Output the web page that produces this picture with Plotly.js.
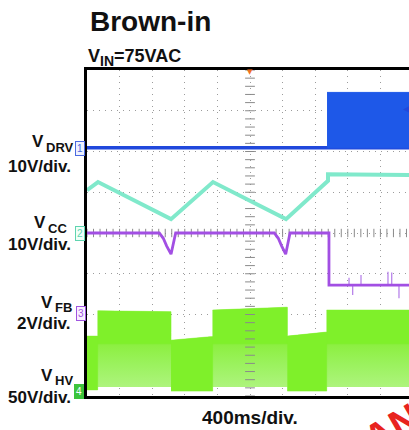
<!DOCTYPE html>
<html>
<head>
<meta charset="utf-8">
<script src="https://cdn.plot.ly/plotly-3.0.1.min.js"></script>
<style>
html,body{margin:0;padding:0;background:#fff;overflow:hidden;}
#chart{width:420px;height:430px;}
</style>
</head>
<body>
<div id="chart"></div>
<script>
// ---- data (time in ms, amplitude in screen divisions) ----
const vdrvLineT = [0, 4000];
const vdrvLineV = [2.09, 2.09];
const vdrvBurstT = [2945, 4000];
const vdrvBurstHi = [3.45, 3.45];
const vdrvBurstLo = [2.09, 2.09];

const vccT = [0, 135, 1031, 1546, 2442, 2957, 2957, 4000];
const vccV = [1.05, 1.25, 0.34, 1.25, 0.34, 1.28, 1.44, 1.42];

const vfbT = [0, 887, 936, 978, 1031, 1088, 2298, 2347, 2389, 2438, 2491, 2969, 2969, 4000];
const vfbV = [0, 0, -0.13, -0.32, -0.52, 0, 0, -0.13, -0.32, -0.52, 0, 0, -1.28, -1.28];
const vfbSpikeT = [3215, 3260, 3362, 3693, 3739, 3828];
const vfbSpikeV = [-1.1, -1.52, -1.03, -0.95, -0.97, -1.6];
const vfbSpikeBase = -1.28;

// V_HV burst envelope: one entry per segment (start/end time, top, solid part, bottom)
const vhvT0 = [0, 131, 1031, 1542, 2458, 2941];
const vhvT1 = [131, 1031, 1542, 2458, 2941, 4000];
const vhvTop0 = [-2.53, -1.91, -2.63, -1.89, -2.53, -1.89];
const vhvTop1 = [-2.53, -1.93, -2.54, -1.82, -2.43, -1.89];
const vhvSolidLo = [-3.85, -2.72, -3.88, -2.72, -3.88, -2.72];
const vhvBottom = [-3.85, -3.78, -3.88, -3.78, -3.88, -3.78];

const titleText = 'Brown-in';
const xUnitText = '400ms/div.';
const channelNames = [['V', 'DRV'], ['V', 'CC'], ['V', 'FB'], ['V', 'HV']];
const channelScales = ['10V/div.', '10V/div.', '2V/div.', '50V/div.'];

// ---- helpers ----
function boxes(t0, t1, hi0, hi1, lo0, lo1) {
  const x = [], y = [];
  for (let i = 0; i < t0.length; i++) {
    x.push(t0[i], t1[i], t1[i], t0[i], null);
    y.push(hi0[i], hi1[i], lo1[i], lo0[i], null);
  }
  return {x: x, y: y};
}
const L = 87, T = 70, W = 326, H = 326;
function px(x) { return (x - L) / W; }
function py(y) { return (T + H - y) / H; }
const FONT = 'Liberation Sans, Arial, sans-serif';
function lab(text, x, y, size, xanchor, extra) {
  return Object.assign({
    text: text, xref: 'paper', yref: 'paper', x: px(x), y: py(y),
    xanchor: xanchor, yanchor: 'middle', showarrow: false, borderpad: 0,
    font: {family: FONT, size: size, color: '#111', weight: 'bold'}
  }, extra || {});
}

// crosshair minor ticks along the centre lines
const chX = [], chY = [];
for (let k = 0; k <= 50; k++) { chX.push(k * 80); }
for (let k = 0; k <= 40; k++) { chY.push(-4 + k * 0.2); }

const hvAll = boxes(vhvT0, vhvT1, vhvTop0, vhvTop1, vhvBottom, vhvBottom);
const hvSolid = boxes(vhvT0, vhvT1, vhvTop0, vhvTop1, vhvSolidLo, vhvSolidLo);
const burst = boxes([vdrvBurstT[0]], [vdrvBurstT[1]], [vdrvBurstHi[0]], [vdrvBurstHi[1]],
                    [vdrvBurstLo[0]], [vdrvBurstLo[1]]);
const spikes = {x: [], y: []};
for (let i = 0; i < vfbSpikeT.length; i++) {
  spikes.x.push(vfbSpikeT[i], vfbSpikeT[i], null);
  spikes.y.push(vfbSpikeBase, vfbSpikeV[i], null);
}

const traces = [
  {x: hvAll.x, y: hvAll.y, mode: 'lines', fill: 'toself', fillcolor: '#a6f274',
   fillgradient: {type: 'vertical', start: -3.8, stop: -2.72,
     colorscale: [[0, '#aef47e'], [0.5, '#9cf260'], [1, '#8cef40']]},
   line: {width: 0, color: '#a6f274', simplify: false}, hoverinfo: 'skip'},
  {x: hvSolid.x, y: hvSolid.y, mode: 'lines', fill: 'toself', fillcolor: '#7ff02a',
   line: {width: 0.5, color: '#7ff02a', simplify: false}, hoverinfo: 'skip'},
  {x: chX, y: chX.map(() => 0), mode: 'markers', hoverinfo: 'skip',
   marker: {symbol: 'line-ns', size: 6, line: {width: 1, color: '#8a8a8a'}}},
  {x: chY.map(() => 2000), y: chY, mode: 'markers', hoverinfo: 'skip',
   marker: {symbol: 'line-ew', size: 7, line: {width: 1, color: '#8a8a8a'}}},
  {x: spikes.x, y: spikes.y, mode: 'lines', line: {width: 1.2, color: '#b27ae8'}, hoverinfo: 'skip'},
  {x: vfbT, y: vfbV, mode: 'lines', line: {width: 2.8, color: '#a24fe3', simplify: false}, hoverinfo: 'skip'},
  {x: vccT, y: vccV, mode: 'lines', line: {width: 4, color: '#80e9cb'}, hoverinfo: 'skip'},
  {x: vdrvLineT, y: vdrvLineV, mode: 'lines', line: {width: 3.5, color: '#2048dc'}, hoverinfo: 'skip'},
  {x: burst.x, y: burst.y, mode: 'lines', fill: 'toself', fillcolor: '#1e58e8',
   line: {width: 1, color: '#1e58e8', simplify: false}, hoverinfo: 'skip'}
];

const axisCommon = {
  showticklabels: false, ticks: '', showgrid: true, gridcolor: '#9c9c9c', gridwidth: 1,
  griddash: '1px,5px', zeroline: false, showline: true, linecolor: '#000', linewidth: 3,
  mirror: true, fixedrange: true
};

const annotations = [
  lab(titleText, 89, 22, 28, 'left'),
  lab('V', 87, 56, 18, 'left'),
  lab('IN', 99, 61, 14, 'left'),
  lab('=75VAC', 113, 56, 18, 'left'),
  // channel labels
  lab(channelNames[0][0], 45, 141, 17, 'right'),
  lab(channelNames[0][1], 45, 147, 13, 'left'),
  lab(channelScales[0], 72, 166, 17, 'right'),
  lab(channelNames[1][0], 47, 222, 17, 'right'),
  lab(channelNames[1][1], 47, 228, 13, 'left'),
  lab(channelScales[1], 72, 244, 17, 'right'),
  lab(channelNames[2][0], 54, 302, 17, 'right'),
  lab(channelNames[2][1], 54, 307, 13, 'left'),
  lab(channelScales[2], 72, 323, 17, 'right'),
  lab(channelNames[3][0], 54, 375, 17, 'right'),
  lab(channelNames[3][1], 54, 380, 13, 'left'),
  lab(channelScales[3], 72, 397, 17, 'right'),
  lab(xUnitText, 250, 417, 19, 'center'),
  // channel markers
  lab('1', 85, 148, 10, 'right', {font: {family: FONT, size: 10, color: '#4a6ae0'},
    bordercolor: '#4a6ae0', borderwidth: 1, borderpad: 1, bgcolor: '#eef2ff'}),
  lab('2', 85, 233, 10, 'right', {font: {family: FONT, size: 10, color: '#5fd4b0'},
    bordercolor: '#5fd4b0', borderwidth: 1, borderpad: 1, bgcolor: '#f0fff9'}),
  lab('3', 86, 313, 10, 'right', {font: {family: FONT, size: 10, color: '#a055e0'},
    bordercolor: '#a055e0', borderwidth: 1, borderpad: 1, bgcolor: '#f8f0ff'}),
  lab('4', 84, 391, 10, 'right', {font: {family: FONT, size: 10, color: '#fff'},
    bordercolor: '#3cc43c', borderwidth: 1, borderpad: 1, bgcolor: '#3cc43c'}),
  // trigger markers
  lab('\u25BC', 250, 72, 7, 'center', {font: {family: 'DejaVu Sans', size: 7, color: '#f07020'}}),
  lab('\u25C0', 402, 108, 10, 'left', {font: {family: 'DejaVu Sans', size: 10, color: '#2048dc'}}),
  // watermark
  lab('AN', 392, 428, 40, 'center', {font: {family: FONT, size: 40, color: '#e8231e', weight: 'bold'},
    textangle: -30})
];

const layout = {
  width: 420, height: 430,
  margin: {l: L, r: 420 - L - W, t: T, b: 430 - T - H, pad: 0},
  paper_bgcolor: '#fff', plot_bgcolor: '#fff', showlegend: false,
  xaxis: Object.assign({range: [0, 4000], dtick: 400, tick0: 0}, axisCommon),
  yaxis: Object.assign({range: [-4, 4], dtick: 1, tick0: -4}, axisCommon),
  annotations: annotations
};

Plotly.newPlot('chart', traces, layout, {displayModeBar: false, staticPlot: true});
</script>
</body>
</html>
